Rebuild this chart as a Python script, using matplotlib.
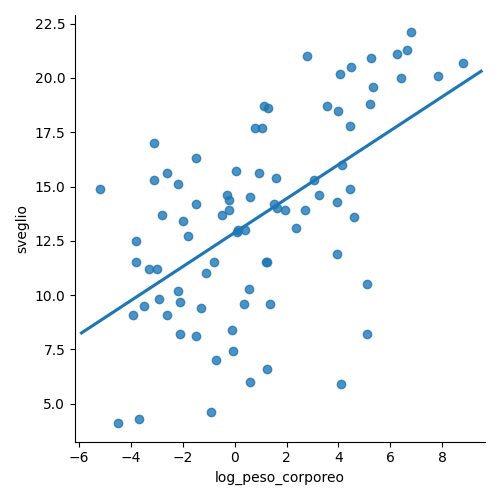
import numpy as np
import pandas as pd
import matplotlib
matplotlib.use('Agg')
import matplotlib.pyplot as plt
import seaborn as sns

log_peso_corporeo = [
    -5.2, -4.5, -3.9, -3.8, -3.8, -3.7, -3.5, -3.3, -3.0, -3.1, -3.1, -2.9, -2.8,
    -2.6, -2.6, -2.2, -2.2, -2.1, -2.1, -2.0, -1.8, -1.5, -1.5, -1.5, -1.3, -1.1,
    -0.9, -0.8, -0.7, -0.5, -0.3, -0.2, -0.2, -0.1, -0.05, 0.05, 0.1, 0.15, 0.35,
    0.4, 0.55, 0.6, 0.6, 0.8, 0.95, 1.05, 1.15, 1.2, 1.25, 1.25, 1.3, 1.35, 1.5,
    1.6, 1.65, 1.95, 2.35, 2.7, 2.8, 3.05, 3.25, 3.55, 3.95, 3.95, 4.0, 4.05,
    4.15, 4.1, 4.45, 4.5, 4.45, 4.6, 5.1, 5.1, 5.2, 5.25, 5.35, 6.25, 6.4, 6.65,
    6.8, 7.85, 8.8,
]
sveglio = [
    14.9, 4.1, 9.1, 12.5, 11.5, 4.3, 9.5, 11.2, 11.2, 17.0, 15.3, 9.8, 13.7,
    15.6, 9.1, 15.1, 10.2, 8.2, 9.7, 13.4, 12.7, 14.2, 16.3, 8.1, 9.4, 11.0,
    4.6, 11.5, 7.0, 13.7, 14.6, 14.4, 13.9, 8.4, 7.4, 15.7, 12.9, 13.0, 9.6,
    13.0, 10.3, 6.0, 14.5, 17.7, 15.6, 17.7, 18.7, 11.5, 11.5, 6.6, 18.6, 9.6, 14.2,
    15.4, 14.0, 13.9, 13.1, 13.9, 21.0, 15.3, 14.6, 18.7, 11.9, 14.3, 18.5, 20.2,
    16.0, 5.9, 17.8, 20.5, 14.9, 13.6, 10.5, 8.2, 18.8, 20.9, 19.6, 21.1, 20.0, 21.3,
    22.1, 20.1, 20.7,
]

df = pd.DataFrame({'log_peso_corporeo': log_peso_corporeo, 'sveglio': sveglio})

g = sns.lmplot(data=df, x='log_peso_corporeo', y='sveglio', ci=None, height=5,
               truncate=False)
ax = g.ax
ax.set_xlim(-6.15, 9.65)
ax.set_ylim(3.25, 22.9)
g.figure.savefig('out.png', dpi=100)
